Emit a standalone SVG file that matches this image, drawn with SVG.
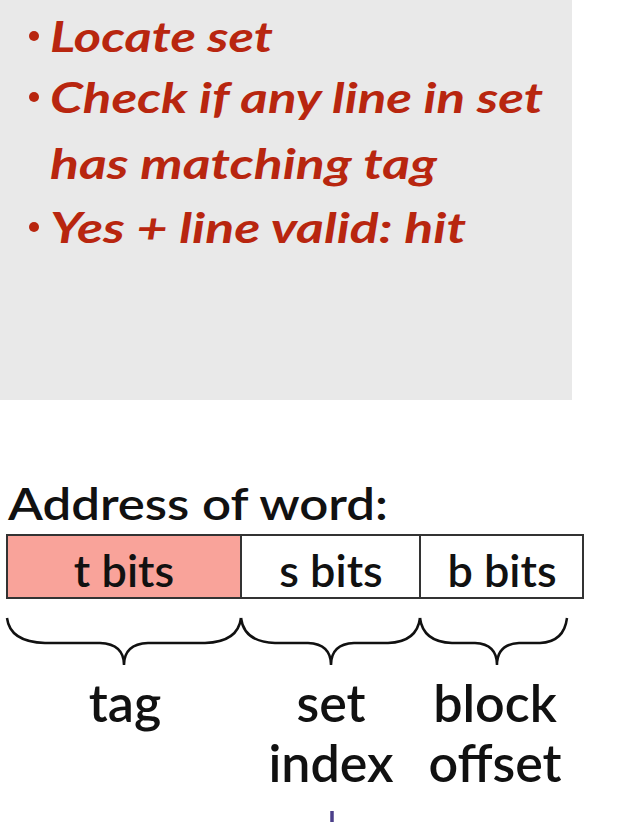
<svg xmlns="http://www.w3.org/2000/svg" width="634" height="822" viewBox="0 0 634 822">
<style>
.bul{font-family:Lato,"Open Sans",sans-serif;font-weight:bold;font-style:italic;font-size:42px;fill:#b8260f}
.lbl{font-family:Lato,"Open Sans",sans-serif;font-weight:600;font-size:44px;fill:#111}
.cell{font-family:Lato,"Open Sans",sans-serif;font-weight:600;font-size:45px;fill:#111;text-anchor:middle}
.big{font-size:52px}
.brace{fill:none;stroke:#111;stroke-width:2.5}
.dot{fill:#b8260f}
</style>
<rect width="634" height="822" fill="#ffffff"/>
<g id="notes">
<rect x="0" y="0" width="572" height="400" fill="#e9e9e9"/>
<circle class="dot" cx="34" cy="36" r="5"/>
<circle class="dot" cx="34" cy="97" r="5"/>
<circle class="dot" cx="34" cy="227" r="5"/>
<text class="bul" x="50" y="52" textLength="223" lengthAdjust="spacingAndGlyphs">Locate set</text>
<text class="bul" x="50" y="113" textLength="493" lengthAdjust="spacingAndGlyphs">Check if any line in set</text>
<text class="bul" x="50" y="179" textLength="387" lengthAdjust="spacingAndGlyphs">has matching tag</text>
<text class="bul" x="50" y="243" textLength="416" lengthAdjust="spacingAndGlyphs">Yes + line valid: hit</text>
</g>
<g id="address">
<text class="lbl" x="8" y="520" textLength="380" lengthAdjust="spacingAndGlyphs">Address of word:</text>
</g>
<g id="t-bits">
<rect x="7" y="535" width="234" height="63" fill="#f9a39a" stroke="#333" stroke-width="2"/>
<text class="cell" x="124" y="587">t bits</text>
</g>
<g id="s-bits">
<rect x="241" y="535" width="179" height="63" fill="#ffffff" stroke="#333" stroke-width="2"/>
<text class="cell" x="331" y="587">s bits</text>
</g>
<g id="b-bits">
<rect x="420" y="535" width="163" height="63" fill="#ffffff" stroke="#333" stroke-width="2"/>
<text class="cell" x="502" y="587">b bits</text>
</g>
<g id="braces">
<path class="brace" d="M7 618 Q10 642 45 643 L100 643 Q124 644 124 665 Q124 644 148 643 L205 643 Q238 642 241 618"/>
<path class="brace" d="M241 618 Q244 642 275 643 L308 643 Q331 644 331 665 Q331 644 354 643 L388 643 Q417 642 420 618"/>
<path class="brace" d="M420 618 Q423 642 452 643 L475 643 Q497 644 497 665 Q497 644 519 643 L540 643 Q564 642 567 618"/>
</g>
<g id="tag">
<text class="cell big" x="125" y="722">tag</text>
</g>
<g id="set-index">
<text class="cell big" x="331" y="722">set</text>
<text class="cell big" x="331" y="782">index</text>
</g>
<g id="block-offset">
<text class="cell big" x="495" y="722">block</text>
<text class="cell big" x="495" y="782">offset</text>
</g>
<g id="connectors">
<line x1="332" y1="811" x2="332" y2="822" stroke="#4b3f8a" stroke-width="3.5"/>
</g>
</svg>
